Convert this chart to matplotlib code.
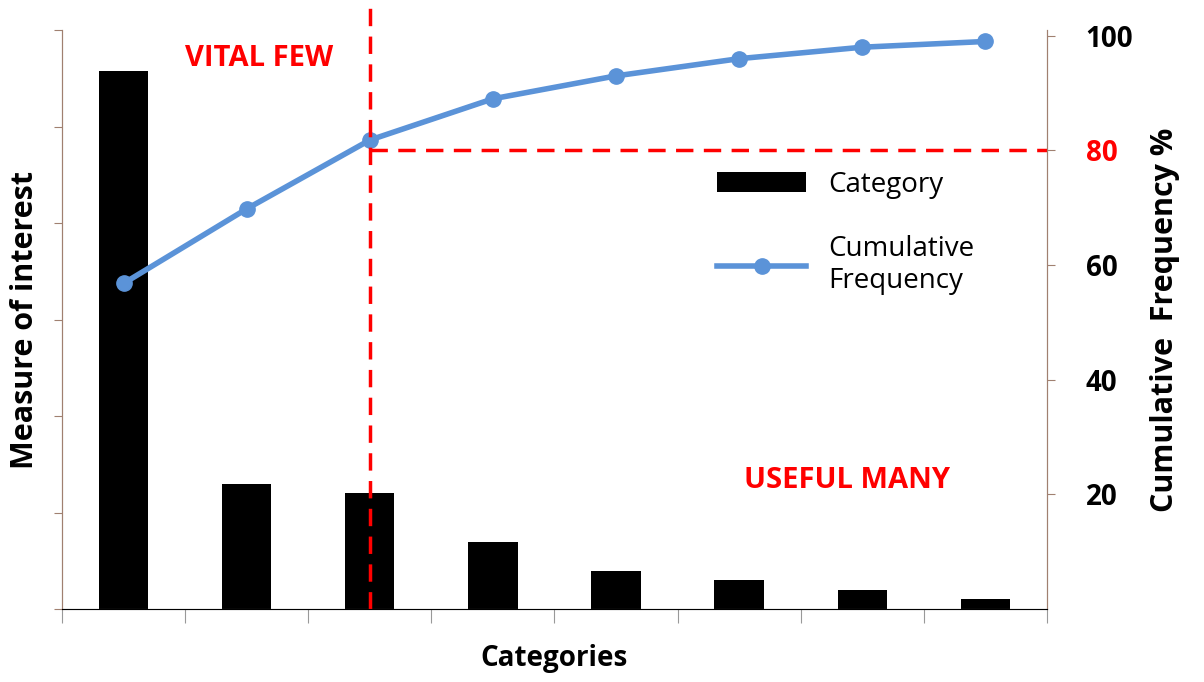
import numpy as np
import matplotlib.pyplot as plt

categories = ['A', 'B', 'C', 'D', 'E', 'F', 'G', 'H']
measure = [558, 130, 120, 69, 39, 30, 20, 10]
cumulative = [56.8, 69.8, 81.8, 89, 93, 96, 98, 99]
right_ticks = [20, 40, 60, 80, 100]

plt.rcParams['font.family'] = ['Open Sans', 'DejaVu Sans']

fig = plt.figure(figsize=(12.04, 6.82), dpi=100)
ax = fig.add_axes([0.0515, 0.107, 0.818, 0.849])
x = np.arange(len(categories))
ax.bar(x, measure, width=0.4, color='black', label='Category')
ax.set_xlim(-0.5, len(categories) - 0.5)
ax.set_ylim(0, 600)
ax.set_yticks(np.arange(0, 601, 100))
ax.set_yticklabels([])
ax.set_xticks(np.arange(-0.5, len(categories), 1))
ax.set_xticklabels([])
ax.tick_params(axis='x', direction='out', length=10, color='#999999')
ax.tick_params(axis='y', direction='out', length=6, color='#a08070')
ax.spines['top'].set_visible(False)
ax.spines['left'].set_color('#a08070')
ax.spines['right'].set_color('#a08070')
ax.spines['bottom'].set_color('#999999')
ax.set_xlabel('Categories', fontsize=20, fontweight='bold', labelpad=12)
ax.set_ylabel('Measure of interest', fontsize=22, fontweight='bold', labelpad=6)

ax2 = ax.twinx()
ax2.plot(x, cumulative, color='#5b93d8', lw=4, marker='o', ms=11, label='Cumulative\nFrequency')
ax2.set_ylim(0, 101)
ax2.set_yticks(right_ticks)
ax2.set_yticklabels([str(t) for t in right_ticks], fontsize=20, fontweight='bold')
ax2.get_yticklabels()[3].set_color('red')
ax2.tick_params(axis='y', direction='out', length=6, color='#a08070', pad=22)
ax2.spines['top'].set_visible(False)
ax2.spines['right'].set_color('#a08070')
ax2.spines['left'].set_color('#a08070')
ax2.set_ylabel('Cumulative  Frequency %', fontsize=22, fontweight='bold', labelpad=12)

ax2.plot([2, 2], [0, 106], color='red', lw=2.5, dashes=(5, 3), clip_on=False)
ax2.plot([2, len(categories) - 0.5], [80, 80], color='red', lw=2.5, dashes=(5, 3), clip_on=False)
ax2.text(1.1, 96, 'VITAL FEW', color='red', fontsize=21, fontweight='bold', va='center', ha='center')
ax2.text(5.88, 22.5, 'USEFUL MANY', color='red', fontsize=21, fontweight='bold', va='center', ha='center')

h1, l1 = ax.get_legend_handles_labels()
h2, l2 = ax2.get_legend_handles_labels()
ax2.legend(h1 + h2, l1 + l2, loc='upper left', bbox_to_anchor=(0.64, 0.8),
           frameon=False, fontsize=20, handlelength=3.2, labelspacing=1.3)

fig.savefig('out.png', dpi=100)
